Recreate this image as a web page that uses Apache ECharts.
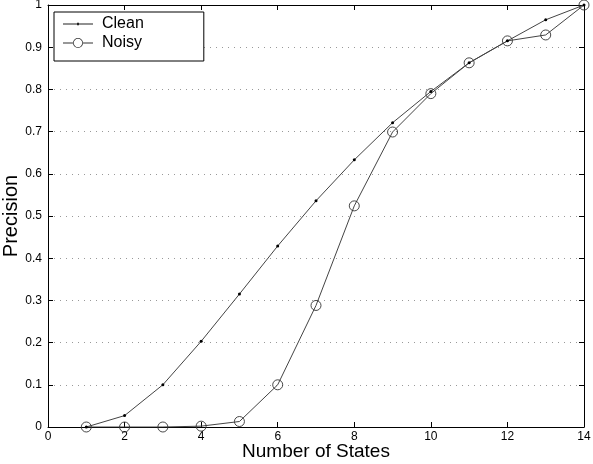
<!DOCTYPE html>
<html>
<head>
<meta charset="utf-8">
<script src="https://cdn.jsdelivr.net/npm/echarts@6/dist/echarts.min.js"></script>
<style>
  html, body { margin: 0; padding: 0; background: #fff; }
  #chart { width: 593px; height: 464px; }
</style>
</head>
<body>
<div id="chart"></div>
<script>
const states = [1, 2, 3, 4, 5, 6, 7, 8, 9, 10, 11, 12, 13, 14];
const cleanPrecision = [0, 0.027, 0.1, 0.203, 0.315, 0.429, 0.536, 0.633, 0.721, 0.795, 0.863, 0.915, 0.965, 1.0];
const noisyPrecision = [0, 0, 0, 0.002, 0.013, 0.1, 0.288, 0.524, 0.699, 0.79, 0.863, 0.915, 0.929, 1.0];

const font = "Liberation Sans, Arial, Helvetica, sans-serif";
const pairs = (ys) => states.map((x, i) => [x, ys[i]]);

// legend icons: line with a small dot / line with an open ring
const cleanIcon = "path://M0,4.6h30v0.8h-30z M14,3.8h2v2.4h-2z";
const noisyIcon =
  "path://M0,4.6h10.2v0.8h-10.2z M19.8,4.6h10.2v0.8h-10.2z " +
  "M15,0a5,5 0 1,0 0.01,0z M15,0.8a4.2,4.2 0 1,1 -0.01,0z";

const chart = echarts.init(document.getElementById("chart"));

const frameAxis = {
  axisLine: { show: true, onZero: false, lineStyle: { color: "#000", width: 1 } },
  axisTick: { show: true, inside: true, length: 5, lineStyle: { color: "#000" } },
  splitLine: { show: false },
};

const option = {
  animation: false,
  backgroundColor: "#fff",
  grid: {
    left: 48, top: 5, right: 9, bottom: 37,
    containLabel: false,
    outerBoundsMode: "none",
  },
  legend: {
    orient: "vertical",
    left: 54,
    top: 12,
    itemWidth: 30,
    itemHeight: 10,
    itemGap: 3,
    padding: [4, 60, 10, 9],
    borderColor: "#000",
    borderWidth: 1,
    backgroundColor: "#fff",
    textStyle: { fontFamily: font, fontSize: 16, color: "#000", padding: [0, 0, 0, 4] },
    data: [
      { name: "Clean", icon: cleanIcon, itemStyle: { color: "#222", borderWidth: 0 } },
      { name: "Noisy", icon: noisyIcon, itemStyle: { color: "#333", borderWidth: 0 } },
    ],
  },
  xAxis: [
    {
      type: "value",
      min: 0,
      max: 14,
      interval: 2,
      name: "Number of States",
      nameLocation: "middle",
      nameMoveOverlap: false,
      nameGap: 15,
      nameTextStyle: { fontFamily: font, fontSize: 19, color: "#000" },
      axisLabel: { fontFamily: font, fontSize: 12, color: "#000", margin: 4 },
      ...frameAxis,
    },
    {
      type: "value",
      position: "top",
      min: 0,
      max: 14,
      interval: 2,
      axisLabel: { show: false },
      ...frameAxis,
    },
  ],
  yAxis: [
    {
      type: "value",
      min: 0,
      max: 1,
      interval: 0.1,
      name: "Precision",
      nameLocation: "middle",
      nameMoveOverlap: false,
      nameGap: 27,
      nameTextStyle: { fontFamily: font, fontSize: 20, color: "#000" },
      axisLabel: { fontFamily: font, fontSize: 12, color: "#000", margin: 6 },
      ...frameAxis,
      splitLine: {
        show: true,
        lineStyle: { color: "#999", type: [1, 5], width: 1 },
      },
    },
    {
      type: "value",
      position: "right",
      min: 0,
      max: 1,
      interval: 0.1,
      axisLabel: { show: false },
      ...frameAxis,
    },
  ],
  series: [
    {
      name: "Clean",
      type: "line",
      data: pairs(cleanPrecision),
      symbol: "circle",
      symbolSize: 3,
      itemStyle: { color: "#000" },
      lineStyle: { color: "#444", width: 1 },
    },
    {
      name: "Noisy",
      type: "line",
      data: pairs(noisyPrecision),
      symbol: "circle",
      symbolSize: 10,
      itemStyle: { color: "rgba(0,0,0,0)", borderColor: "#333", borderWidth: 0.9 },
      lineStyle: { color: "#444", width: 1 },
    },
  ],
};

chart.setOption(option);
</script>
</body>
</html>
